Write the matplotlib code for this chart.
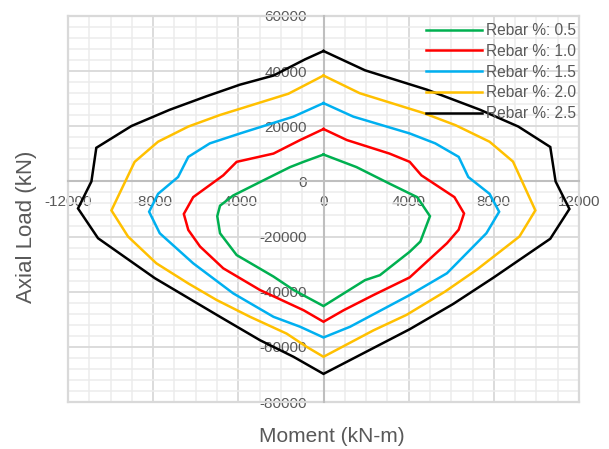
import matplotlib
matplotlib.use("Agg")
import matplotlib.pyplot as plt
from matplotlib.ticker import MultipleLocator

plt.rcParams['font.family'] = ['Liberation Sans', 'DejaVu Sans']

# Interaction curves: moment (kN-m) and axial load (kN), traced clockwise from the top
labels = ["Rebar %: 0.5", "Rebar %: 1.0", "Rebar %: 1.5", "Rebar %: 2.0", "Rebar %: 2.5"]
colors = ["#00b050", "#ff0000", "#00b0f0", "#ffc000", "#000000"]

moment_05 = [0, 1550, 3100, 4400, 5000, 4550, 4050, 2650, 1950, 0,
             -1400, -2350, -4080, -4860, -4990, -4860, -4240, -2820, -1570, -940, 0]
axial_05 = [9750, 5200, -800, -5700, -12600, -21800, -25500, -34000, -35800, -45200,
            -39400, -34500, -26700, -18800, -12600, -8800, -5100, 400, 5200, 7100, 9750]

moment_10 = [0, 1100, 3100, 4050, 4600, 6150, 6600, 6350, 5800, 4050, 2350, 950, 0,
             -940, -2980, -4710, -5800, -6350, -6560, -6120, -4710, -4080, -2350, -1100, 0]
axial_10 = [19000, 15000, 10100, 7100, 2200, -5700, -11600, -17500, -22400, -34800, -41200, -46700, -50900,
            -46700, -39400, -31500, -23600, -17600, -11800, -5700, 2200, 7100, 10100, 15000, 19000]

moment_15 = [0, 1400, 4050, 5250, 6350, 6800, 7800, 8250, 7650, 5800, 4050, 1250, 0,
             -1100, -2350, -4240, -6120, -7690, -8190, -7770, -6830, -6350, -5340, -3920, -1410, 0]
axial_15 = [28400, 23500, 17400, 13800, 8900, 1600, -4500, -11000, -18800, -33300, -41200, -52700, -56600,
            -52700, -49100, -40600, -29700, -18800, -11000, -4500, 1600, 8900, 13800, 17400, 23500, 28400]

moment_20 = [0, 1700, 4700, 6200, 7800, 8900, 9950, 9200, 7200, 5700, 3900, 2350, 0,
             -790, -1730, -3450, -5020, -6350, -7850, -9180, -9960, -8870, -7770, -6350, -4860, -1650, 0]
axial_20 = [38400, 32000, 24800, 20400, 14400, 7200, -10500, -20000, -32000, -40000, -48400, -54000, -63600,
            -60000, -55200, -49100, -43000, -37000, -29700, -20000, -10500, 7100, 14400, 19900, 24100, 31800, 38400]

moment_25 = [0, 1950, 4850, 7350, 9150, 10650, 10900, 11550, 10650, 8000, 6100, 4050, 0,
             -1410, -2980, -4860, -7920, -10590, -11530, -10900, -10670, -9020, -7220, -5490, -3920, -2350, -860, 0]
axial_25 = [47300, 40300, 33300, 26000, 19900, 12500, 0, -10000, -20800, -34800, -44400, -53600, -69800,
            -63600, -57600, -49100, -35100, -20600, -9800, 0, 12200, 20100, 26000, 30900, 35100, 38400, 44300, 47300]

moments = [moment_05, moment_10, moment_15, moment_20, moment_25]
axials = [axial_05, axial_10, axial_15, axial_20, axial_25]

x_ticks = [-12000, -8000, -4000, 0, 4000, 8000, 12000]
y_ticks = [-80000, -60000, -40000, -20000, 0, 20000, 40000, 60000]

text_gray = "#595959"
major_gray = "#d9d9d9"

fig = plt.figure(figsize=(6.09, 4.49), dpi=100)
ax = fig.add_axes([68 / 609, 1 - 402 / 449, 511 / 609, 386 / 449])

for m, p, lab, col in zip(moments, axials, labels, colors):
    ax.plot(m, p, color=col, linewidth=1.8, label=lab, solid_joinstyle='miter', zorder=3)

ax.set_xlim(x_ticks[0], x_ticks[-1])
ax.set_ylim(y_ticks[0], y_ticks[-1])
ax.set_xticks(x_ticks)
ax.set_yticks(y_ticks)
ax.set_xticklabels([str(v) for v in x_ticks])
ax.set_yticklabels([str(v) for v in y_ticks])
ax.xaxis.set_minor_locator(MultipleLocator(1000))
ax.yaxis.set_minor_locator(MultipleLocator(4000))

ax.grid(which='minor', color='#ececec', linewidth=1.1, zorder=0)
ax.grid(which='major', color=major_gray, linewidth=1.3, zorder=1)
ax.set_axisbelow(True)

# outer frame of the plot area drawn in the major grid colour
for xv in (x_ticks[0], x_ticks[-1]):
    ax.axvline(xv, color=major_gray, linewidth=1.6, clip_on=False, zorder=1)
for yv in (y_ticks[0], y_ticks[-1]):
    ax.axhline(yv, color=major_gray, linewidth=1.6, clip_on=False, zorder=1)

for side in ['top', 'right']:
    ax.spines[side].set_visible(False)
ax.spines['left'].set_position('zero')
ax.spines['bottom'].set_position('zero')
for side in ['left', 'bottom']:
    ax.spines[side].set_color('#bfbfbf')
    ax.spines[side].set_linewidth(1.5)
    ax.spines[side].set_zorder(2)

ax.tick_params(which='both', length=0, labelsize=11, labelcolor=text_gray)
ax.tick_params(axis='x', pad=10)
ax.tick_params(axis='y', pad=12)

leg = ax.legend(loc='upper right', bbox_to_anchor=((576 - 68) / 511, (402 - 23) / 386),
                frameon=False, fontsize=11.2, handlelength=3.6, handletextpad=0.25,
                labelspacing=0.37, borderpad=0, borderaxespad=0)
for t in leg.get_texts():
    t.set_color(text_gray)

fig.text(332 / 609, 1 - 437 / 449, "Moment (kN-m)", ha='center', va='center',
         fontsize=15, color=text_gray)
fig.text(27 / 609, 1 - 227 / 449, "Axial Load (kN)", ha='center', va='center',
         rotation=90, fontsize=16, color=text_gray)

fig.savefig("out.png", dpi=100)
